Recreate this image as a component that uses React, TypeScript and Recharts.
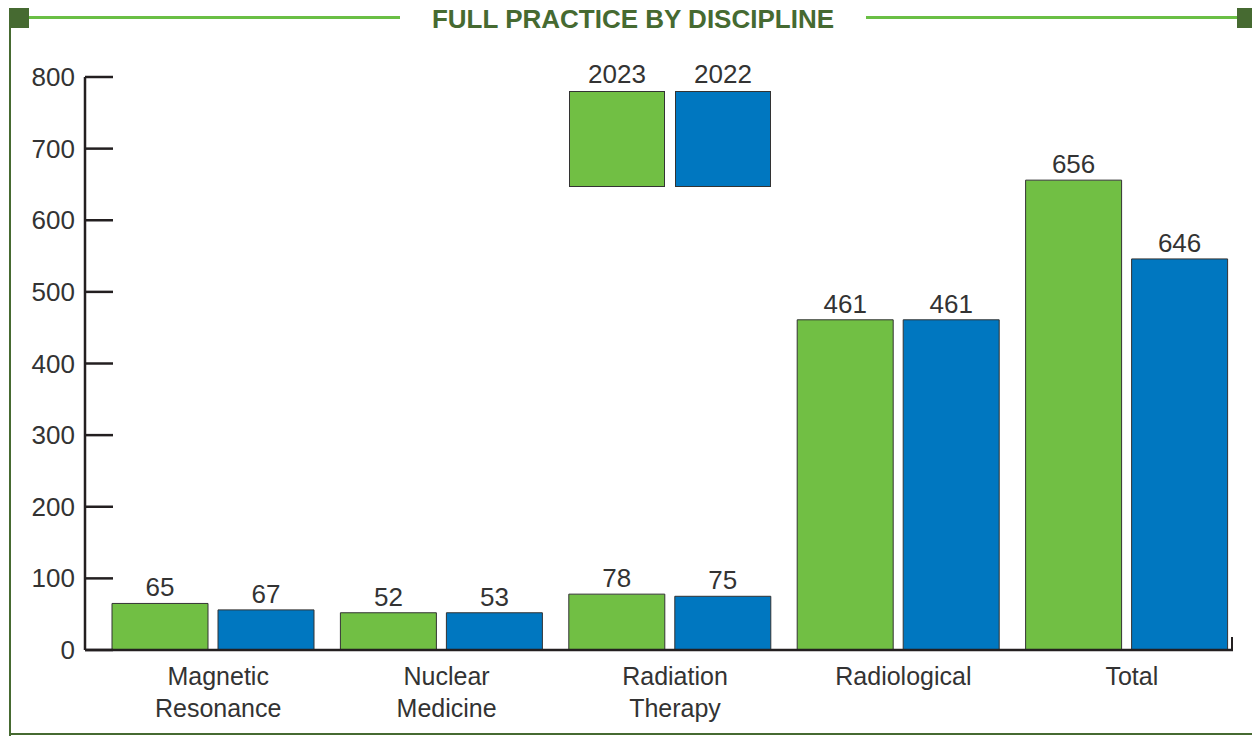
import { BarChart, Bar, XAxis, YAxis, Legend, LabelList } from 'recharts';

// values as drawn (bar heights) and the numbers printed over them
const categories = ['Magnetic Resonance', 'Nuclear Medicine', 'Radiation Therapy', 'Radiological', 'Total'];
const bars2023 = [65, 52, 78, 461, 656];
const bars2022 = [56, 52, 75, 461, 546];
const labels2023 = ['65', '52', '78', '461', '656'];
const labels2022 = ['67', '53', '75', '461', '646'];
const yTicks = [0, 100, 200, 300, 400, 500, 600, 700, 800];
const seriesNames = ['2023', '2022'];

const GREEN = '#71bf44';
const BLUE = '#0077c0';
const DARK = '#466a31';
const FONT = '"Liberation Sans", Arial, sans-serif';

const data = categories.map((name, i) => ({
  name,
  y2023: bars2023[i],
  y2022: bars2022[i],
  l2023: labels2023[i],
  l2022: labels2022[i],
}));

const YTick = ({ x, y, payload }: any) => (
  <g>
    <line x1={x + 10} x2={x + 38} y1={y} y2={y} stroke="#231f20" strokeWidth={2.5} />
    <text x={x} y={y} textAnchor="end" dominantBaseline="central" fontSize={26} fill="#333" fontFamily={FONT}>
      {payload.value}
    </text>
  </g>
);

const XTick = ({ x, y, payload }: any) => {
  const lines = String(payload.value).split(' ');
  return (
    <g>
      {lines.map((ln: string, i: number) => (
        <text key={i} x={x + 5} y={y + 35 + i * 32} textAnchor="middle" fontSize={25} fill="#333" fontFamily={FONT}>
          {ln}
        </text>
      ))}
    </g>
  );
};

const LegendBoxes = () => (
  <div style={{ display: 'flex', gap: 10, fontFamily: FONT }}>
    {seriesNames.map((n, i) => (
      <div key={n} style={{ width: 96, textAlign: 'center' }}>
        <div style={{ fontSize: 26, lineHeight: '30px', color: '#333', marginBottom: 2 }}>{n}</div>
        <div style={{ height: 96, background: i === 0 ? GREEN : BLUE, border: '1px solid #333', boxSizing: 'border-box' }} />
      </div>
    ))}
  </div>
);

export default function App() {
  return (
    <div style={{ position: 'absolute', left: 0, top: 0, width: 1252, height: 736, background: '#fff' }}>
      <svg width={1252} height={736} style={{ position: 'absolute', left: 0, top: 0 }}>
        <rect x={9} y={28} width={2} height={708} fill={DARK} />
        <rect x={9} y={733} width={1243} height={2} fill={DARK} />
        <rect x={9} y={8} width={20} height={20} fill={DARK} />
        <rect x={1237} y={8} width={15} height={20} fill={DARK} />
        <rect x={29} y={16} width={371} height={3} fill="#6abf45" />
        <rect x={866} y={16} width={371} height={3} fill="#6abf45" />
        <text x={633} y={28} textAnchor="middle" fontSize={26} fontWeight="bold" fill={DARK} fontFamily={FONT}>
          FULL PRACTICE BY DISCIPLINE
        </text>
        <line x1={1232} x2={1232} y1={637} y2={651} stroke="#231f20" strokeWidth={2} />
      </svg>
      <div style={{ position: 'absolute', left: 0, top: 0 }}>
        <BarChart
          width={1252}
          height={736}
          data={data}
          margin={{ top: 77, right: 19, bottom: 10, left: 0 }}
          barSize={96}
          barGap={10}
        >
          <YAxis
            width={85}
            domain={[0, 800]}
            ticks={yTicks}
            interval={0}
            tickSize={0}
            tickMargin={10}
            tickLine={false}
            axisLine={{ stroke: '#231f20', strokeWidth: 2.5 }}
            tick={<YTick />}
          />
          <XAxis
            dataKey="name"
            height={76}
            interval={0}
            tickSize={0}
            tickMargin={0}
            tickLine={false}
            padding={{ left: 14, right: -8 }}
            axisLine={{ stroke: '#231f20', strokeWidth: 2.5 }}
            tick={<XTick />}
          />
          <Legend
            content={<LegendBoxes />}
            wrapperStyle={{ position: 'absolute', left: 569, top: 59, width: 202, height: 0, overflow: 'visible', bottom: 'auto' }}
          />
          <Bar dataKey="y2023" name={seriesNames[0]} fill={GREEN} stroke="#333" strokeWidth={1} isAnimationActive={false}>
            <LabelList dataKey="l2023" position="top" offset={7} fontSize={26} fill="#333" fontFamily={FONT} />
          </Bar>
          <Bar dataKey="y2022" name={seriesNames[1]} fill={BLUE} stroke="#333" strokeWidth={1} isAnimationActive={false}>
            <LabelList dataKey="l2022" position="top" offset={7} fontSize={26} fill="#333" fontFamily={FONT} />
          </Bar>
        </BarChart>
      </div>
    </div>
  );
}
